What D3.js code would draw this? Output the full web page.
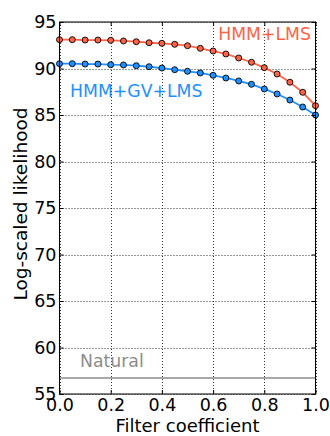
<!DOCTYPE html>
<html><head><meta charset="utf-8">
<script src="https://cdn.jsdelivr.net/npm/d3@7"></script>
<style>
html,body{margin:0;padding:0;background:#fff;}
svg{display:block;font-family:"DejaVu Sans",sans-serif;}
</style></head>
<body><svg id="c" width="330" height="436"></svg>
<script>
const filterCoef = [0,0.05,0.1,0.15,0.2,0.25,0.3,0.35,0.4,0.45,0.5,0.55,0.6,0.65,0.7,0.75,0.8,0.85,0.9,0.95,1.0];
const hmmLms = [93.10,93.10,93.06,93.06,93.03,92.96,92.88,92.77,92.71,92.60,92.45,92.17,91.88,91.56,91.13,90.67,90.09,89.41,88.52,87.44,86.0];
const hmmGvLms = [90.52,90.52,90.48,90.48,90.41,90.38,90.30,90.19,90.05,89.87,89.70,89.52,89.27,88.98,88.66,88.30,87.80,87.26,86.61,85.86,85.0];
const naturalLevel = 56.72;
const xTicks = [0,0.2,0.4,0.6,0.8,1.0];
const yTicks = [55,60,65,70,75,80,85,90,95];

const svg = d3.select("#c");
const L = 59.5, R = 315.5, T = 22, B = 394;
const x = d3.scaleLinear().domain([0,1]).range([L,R]);
const y = d3.scaleLinear().domain([55,95]).range([B,T]);

// grid
const g = svg.append("g");
g.selectAll(".gx").data(xTicks).join("line")
  .attr("x1",d=>Math.round(x(d))+0.5).attr("x2",d=>Math.round(x(d))+0.5)
  .attr("y1",T).attr("y2",B).attr("stroke","#000").attr("stroke-width",0.8).attr("stroke-dasharray","1,2");
g.selectAll(".gy").data(yTicks).join("line")
  .attr("y1",d=>Math.round(y(d))+0.5).attr("y2",d=>Math.round(y(d))+0.5)
  .attr("x1",L).attr("x2",R).attr("stroke","#000").attr("stroke-width",0.8).attr("stroke-dasharray","1,2");

// natural line
svg.append("line").attr("x1",L).attr("x2",R).attr("y1",y(naturalLevel)).attr("y2",y(naturalLevel))
  .attr("stroke","#8c8c8c").attr("stroke-width",1.6);

// series
const line = d3.line().x((d,i)=>x(filterCoef[i])).y(d=>y(d));
const series = [{v:hmmLms,c:"#ff6347"},{v:hmmGvLms,c:"#1e90ff"}];
series.forEach(s=>{
  svg.append("path").attr("d",line(s.v)).attr("fill","none").attr("stroke",s.c).attr("stroke-width",1.8);
  svg.append("g").selectAll("circle").data(s.v).join("circle")
    .attr("cx",(d,i)=>x(filterCoef[i])).attr("cy",d=>y(d)).attr("r",3)
    .attr("fill",s.c).attr("stroke","#000").attr("stroke-width",0.9);
});

// frame
svg.append("rect").attr("x",L).attr("y",T).attr("width",R-L).attr("height",B-T)
  .attr("fill","none").attr("stroke","#000").attr("stroke-width",1);

// axes with inward ticks
const ax = svg.append("g").attr("transform",`translate(0,${B})`)
  .call(d3.axisBottom(x).tickValues(xTicks).tickFormat(d3.format(".1f")).tickSizeInner(-4).tickSizeOuter(0).tickPadding(4.5));
const ay = svg.append("g").attr("transform",`translate(${L},0)`)
  .call(d3.axisLeft(y).tickValues(yTicks).tickFormat(d3.format("d")).tickSizeInner(-4).tickSizeOuter(0).tickPadding(3));
[ax,ay].forEach(a=>{
  a.select(".domain").remove();
  a.selectAll("text").attr("font-family","DejaVu Sans").attr("font-size",17.5).attr("fill","#000");
  a.selectAll("line").attr("stroke","#000");
});
// top/right ticks
svg.append("g").call(d3.axisTop(x).tickValues(xTicks).tickFormat("").tickSizeInner(-4).tickSizeOuter(0))
  .attr("transform",`translate(0,${T})`).call(a=>a.select(".domain").remove());
svg.append("g").call(d3.axisRight(y).tickValues(yTicks).tickFormat("").tickSizeInner(-4).tickSizeOuter(0))
  .attr("transform",`translate(${R},0)`).call(a=>a.select(".domain").remove());

// labels
svg.append("text").attr("x",x(0.5)).attr("y",431.5).attr("text-anchor","middle")
  .attr("font-size",18).text("Filter coefficient");
svg.append("text").attr("transform",`translate(27,204) rotate(-90)`).attr("text-anchor","middle")
  .attr("font-size",18.5).text("Log-scaled likelihood");

svg.append("text").attr("x",311).attr("y",40).attr("text-anchor","end").attr("font-size",17.3)
  .attr("fill","#ff6347").text("HMM+LMS");
svg.append("text").attr("x",70).attr("y",97).attr("font-size",17.3)
  .attr("fill","#1e90ff").text("HMM+GV+LMS");
svg.append("text").attr("x",80).attr("y",367).attr("font-size",17.3)
  .attr("fill","#8c8c8c").text("Natural");
</script></body></html>
